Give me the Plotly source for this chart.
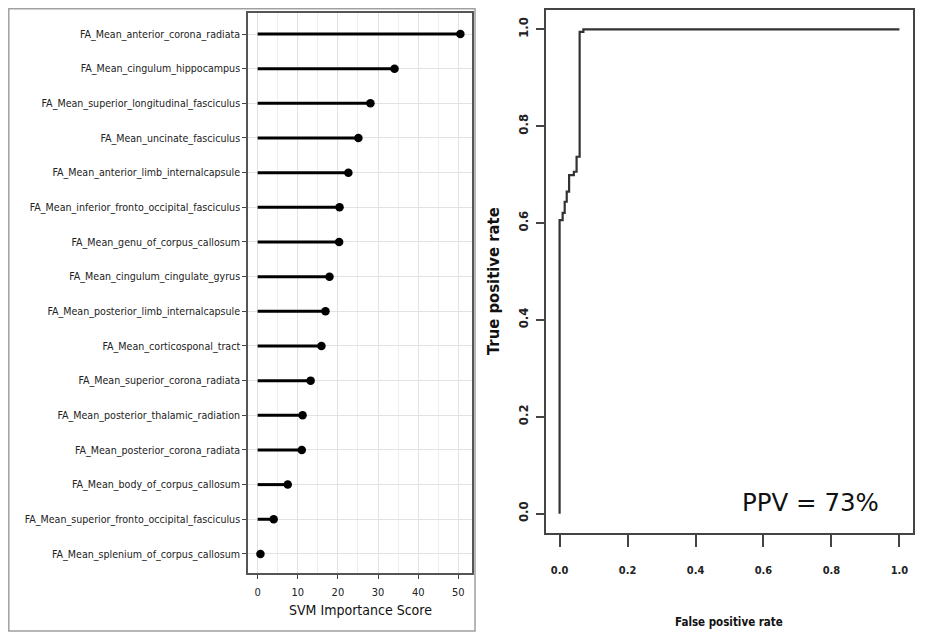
import plotly.graph_objects as go

# ---------------- data ----------------
features = [
    "FA_Mean_anterior_corona_radiata",
    "FA_Mean_cingulum_hippocampus",
    "FA_Mean_superior_longitudinal_fasciculus",
    "FA_Mean_uncinate_fasciculus",
    "FA_Mean_anterior_limb_internalcapsule",
    "FA_Mean_inferior_fronto_occipital_fasciculus",
    "FA_Mean_genu_of_corpus_callosum",
    "FA_Mean_cingulum_cingulate_gyrus",
    "FA_Mean_posterior_limb_internalcapsule",
    "FA_Mean_corticosponal_tract",
    "FA_Mean_superior_corona_radiata",
    "FA_Mean_posterior_thalamic_radiation",
    "FA_Mean_posterior_corona_radiata",
    "FA_Mean_body_of_corpus_callosum",
    "FA_Mean_superior_fronto_occipital_fasciculus",
    "FA_Mean_splenium_of_corpus_callosum",
]
importance = [50.5, 34.1, 28.1, 25.1, 22.6, 20.4, 20.3, 17.9, 16.9, 15.9,
              13.2, 11.2, 11.0, 7.5, 4.0, 0.7]
score_ticks = [0, 10, 20, 30, 40, 50]

roc_fpr = [0.0, 0.0, 0.009, 0.015, 0.021, 0.028, 0.042, 0.050, 0.059, 0.07, 1.0]
roc_tpr = [0.0, 0.606, 0.621, 0.644, 0.665, 0.699, 0.706, 0.737, 0.995, 1.0, 1.0]
rate_ticks = [0.0, 0.2, 0.4, 0.6, 0.8, 1.0]
rate_ticktext = ["0.0", "0.2", "0.4", "0.6", "0.8", "1.0"]
ppv_text = "PPV = 73%"

# ---------------- figure ----------------
OFF = 8                     # default page margin around the plot div
W, H = 926 - OFF, 637 - OFF
def px_x(p):
    return (p - OFF) / W
def px_y(p):
    return 1 - (p - OFF) / H

NARROW = "DejaVu Sans Condensed, DejaVu Sans, sans-serif"

fig = go.Figure()

# stems
sx, sy = [], []
for f, v in zip(features, importance):
    sx += [0, v, None]
    sy += [f, f, None]
fig.add_trace(go.Scatter(x=sx, y=sy, mode="lines",
                         line=dict(color="black", width=3),
                         xaxis="x", yaxis="y", hoverinfo="skip", showlegend=False))
fig.add_trace(go.Scatter(x=importance, y=features, mode="markers",
                         marker=dict(color="black", size=8.5),
                         xaxis="x", yaxis="y", showlegend=False))

# ROC
fig.add_trace(go.Scatter(x=roc_fpr, y=roc_tpr, mode="lines",
                         line=dict(color="#333333", width=2.2, shape="hv"),
                         xaxis="x2", yaxis="y2", showlegend=False))

n = len(features)
fig.update_layout(
    width=W, height=H,
    margin=dict(l=0, r=0, t=0, b=0, autoexpand=False),
    paper_bgcolor="white", plot_bgcolor="white",
    showlegend=False,
    xaxis=dict(domain=[px_x(248), px_x(472)], range=[-2.4, 53.4], automargin=False,
               tickvals=score_ticks, ticks="outside", ticklen=4, tickcolor="#444",
               ticklabelstandoff=4,
               tickfont=dict(family=NARROW, size=11, color="#222"),
               showgrid=True, gridcolor="#e2e2e2", gridwidth=1,
               minor=dict(dtick=5, showgrid=True, gridcolor="#eeeeee", gridwidth=1),
               showline=True, linecolor="#555", linewidth=1.5, mirror=True,
               zeroline=False, anchor="y"),
    yaxis=dict(domain=[px_y(573), px_y(13)], type="category", automargin=False,
               categoryorder="array", categoryarray=features,
               range=[n - 1 + 0.55, -0.606],
               ticks="outside", ticklen=4, tickcolor="#444",
               tickfont=dict(family=NARROW, size=10.6, color="#222"),
               showgrid=True, gridcolor="#e2e2e2", gridwidth=1,
               showline=True, linecolor="#555", linewidth=1.5, mirror=True,
               zeroline=False, anchor="x"),
    xaxis2=dict(domain=[px_x(546), px_x(913)], range=[-0.04, 1.04], automargin=False,
                tickvals=rate_ticks, ticktext=rate_ticktext,
                ticks="outside", ticklen=12, tickwidth=2, tickcolor="#444",
                ticklabelstandoff=14,
                tickfont=dict(family=NARROW, size=11, color="#222", weight="bold"),
                showgrid=False, zeroline=False,
                showline=True, linecolor="#444", linewidth=2, mirror=True,
                anchor="y2"),
    yaxis2=dict(domain=[px_y(533), px_y(10)], range=[-0.04, 1.04], automargin=False,
                tickvals=rate_ticks, ticktext=rate_ticktext, tickangle=-90,
                ticks="outside", ticklen=8, tickwidth=2, tickcolor="#444",
                ticklabelstandoff=3,
                tickfont=dict(family=NARROW, size=13, color="#222", weight="bold"),
                showgrid=False, zeroline=False,
                showline=True, linecolor="#444", linewidth=2, mirror=True,
                anchor="x2"),
)

# outer frame of the left panel
fig.add_shape(type="rect", xref="paper", yref="paper",
              x0=px_x(8.8), x1=px_x(475), y0=px_y(631), y1=px_y(8.8),
              line=dict(color="#a0a0a0", width=1.5), fillcolor="rgba(0,0,0,0)")

# titles
fig.add_annotation(text="SVM Importance Score", xref="paper", yref="paper",
                   x=px_x(360), y=px_y(610), xanchor="center", yanchor="middle",
                   showarrow=False, font=dict(family=NARROW, size=14, color="#111"))
fig.add_annotation(text="False positive rate", xref="paper", yref="paper",
                   x=px_x(729), y=px_y(622), xanchor="center", yanchor="middle",
                   showarrow=False, font=dict(family=NARROW, size=11.5, color="#111", weight="bold"))
fig.add_annotation(text="True positive rate", xref="paper", yref="paper",
                   x=px_x(493), y=px_y(281), xanchor="center", yanchor="middle",
                   textangle=-90, showarrow=False,
                   font=dict(family=NARROW, size=16.5, color="#111", weight="bold"))
fig.add_annotation(text=ppv_text, xref="x2", yref="y2",
                   x=0.946, y=0.022, xanchor="right", yanchor="middle",
                   showarrow=False, font=dict(family="DejaVu Sans", size=24.5, color="#111"))

fig.write_html("out.html")
